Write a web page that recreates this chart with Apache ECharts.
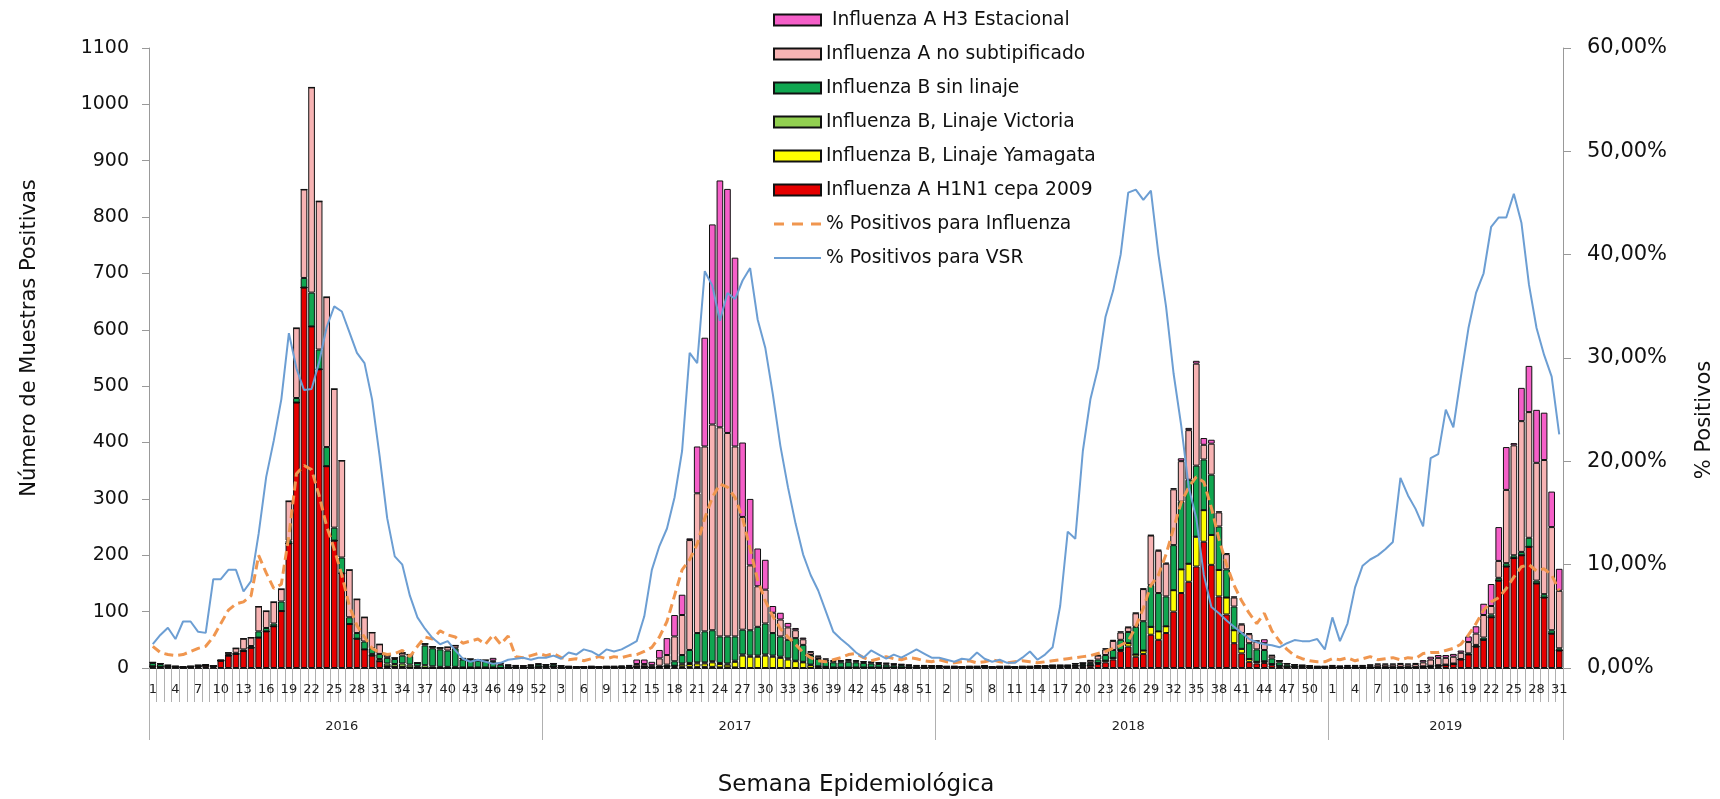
<!DOCTYPE html>
<html>
<head>
<meta charset="utf-8">
<title>Influenza y VSR por semana epidemiológica</title>
<script src="https://cdn.jsdelivr.net/npm/echarts@6/dist/echarts.min.js"></script>
<style>
  html, body { margin: 0; padding: 0; background: #fff; }
  #chart { width: 1720px; height: 799px; }
</style>
</head>
<body>
<div id="chart"></div>
<script>
// años y semanas por año
var years = ['2016', '2017', '2018', '2019'];
var weeksPerYear = [52, 52, 52, 31];

// Influenza A H1N1 cepa 2009
var h1n1 = [
  3,2,2,2,1,2,3,4,3, 13,22,25,30,36,54,65,74,101,221,471,675,606,530,358,226,168,78,52,33,22,12,3,2,2,1,1, 0,0,0,0,0,0,0,0,0,0,0, 1,1,1,1,2,
  2,3,1,1,1,1,1,1,1,1,1,1, 2,2,1,2,2,2,2,2,2,2,2,1,1,1, 0,0,0,0,0,0,0,0,0,0,0,0,0,0,0, 1,1,1,1,1,1,1,1,1,1,1,
  2,1,1,1,1,1,2,1,1,1,1,1,1,2,2,2,2,2, 3,3,4,7,10,15,30,38,20,25,59,50,62,100,133,153,180, 224,183,127,95,44,26,11,8,9,5,3,2,2,2,1,1,1,
  1,1,1,1,1,1,1,1,1,1,1,1, 2,3,4,5,7,15,24,38,50,90,155,180,195,200,215,150,125,61,31
];
// Influenza B, Linaje Yamagata
var yamagata = [
  0,0,0,0,0,0,0,0,0,0, 0,0,0,0,0,0,0,0,0,0, 0,0,0,0,0,0,0,0,0,0, 0,0,0,0,0,0,0,0,0,0, 0,0,0,0,0,0,0,0,0,0, 0,0,
  0,0,0,0,0,0,0,0,0,0, 0,0,0,0,0,0, 1,2,4,5,6,6,8,6,5,10,22,20,20,22,20,18,15,12,10,5,3,2,1,1,1, 0,0,0,0,0,0,0,0,0,0,0,
  0,0,0,0,0,0,0,0,0,0, 0,0,0,0,0,0,0,0, 1,1,1,2,3,3,2,6,4,6,14,15,12,38,42,32,53,56,53,47,30,23,8,5,3,3,2,1,0, 0,0,0,0,0,
  0,0,0,0,0,0,0,0,0,0, 0,0,0,0,0,0,0,0,0,0, 0,0,0,0,0,0,0,0,0,0, 0
];
// Influenza B, Linaje Victoria
var victoria = [
  0,0,0,0,0,0,0,0,0,0, 0,0,0,0,0,0,0,0,0,0, 0,0,0,0,0,0,0,0,0, 3,4,5,5,6,5,2,5,3,2,2,2,1,1,1,1,1, 0,0,0,0,0,0,
  0,0,0,0,0,0,0,0,0,0, 0,0,0,0,0,0,0,0, 2,2,2,2,2,2,2,2,2,2,2,2,2,2,2,1,1,1, 0,0,0,0,0,0,0,0,0,0, 0,0,0,0,0,0,
  0,0,0,0,0,0,0,0,0,0, 0,0,0,0,0,0,0,0,0,0, 0,0,0,0,0,0,0,0,0,0, 0,0,0,0,0,0,0,0,0,0, 0,0,0,0,0,0,0,0,0,0, 0,0,
  0,0,0,0,0,0,0,0,0,0, 0,0,0,0,0,0,0,0,0,0, 0,0,0,0,0,0,0,0,0,0, 0
];
// Influenza B sin linaje
var bSinLinaje = [
  6,5,2,1,1,1,1,1,1, 0,1,2,3,3,11,6,5,17,5,8,17,60,35,34,23,28,12,10,14,10,9,10,9,14,15,6, 35,32,31,29,33,14,13,12,11,10,6,3,2,2,3,4,
  3,4,2,1,1,1,1,1,1,1,1,1, 1,1,1,2,3,8,15,23,52,55,55,47,48,43, 44,45,51,55,40,36,33,40,30,17,13,10,9,9,10,9,8,7,6,5,4,4,3,2,2,2,
  1,1,1,1,1,1,1,1,1,1,1,1,1,1,1,2,2,2, 2,3,4,6,10,14,18,20,49,52,74,68,53,80,120,149,126, 90,107,77,50,42,28,28,22,20,10,6,4,3,2,2,1,1,
  1,1,1,1,1,1,1,1,1,1,1,1, 1,1,1,1,1,1,2,3,4,5,5,6,5,6,16,5,6,6,4
];
// Influenza A no subtipificado
var aNoSubtip = [
  1,1,1,0,0,0,1,1,0, 1,4,8,19,15,44,30,38,22,70,124,157,364,263,266,246,172,84,60,43,28,17,4,2,5,3,0, 3,3,3,6,5,2,2,2,2,2,2,1,1,1,1,1,
  1,1,1,1,0,0,1,0,1,1,1,2, 4,4,3,13,17,44,71,195,248,328,365,371,361,337, 200,115,72,60,36,30,22,14,10,5,4,3,2,2,3,2,2,2,2,2,2,1,1,1,1,1,
  1,1,1,0,1,1,1,0,1,1,0,1,1,1,1,1,1,1, 2,2,4,7,10,16,13,8,24,57,88,75,58,99,72,88,181, 26,55,25,27,16,15,16,14,12,5,3,2,1,1,1,1,1,
  2,1,2,2,2,3,4,4,4,5,4,5, 7,11,13,12,12,11,20,20,40,15,30,130,195,232,223,209,238,183,102
];
// Influenza A H3 Estacional
var h3 = [
  0,0,0,0,0,0,0,0,0,0, 0,0,0,0,0,0,0,0,0,0, 0,0,0,0,0,0,0,0,0,0, 0,0,0,0,0,0,0,0,0,0, 0,0,0,0,0, 5,1,1,1,0,1,1,
  0,0,0,0,0,0,0,0,0,0, 1,1,8,8,6,15,30,38,36,3,83,193,355,438,433,335, 132,118,67,53,12,12,8,4,3,2,2,2,2,2,2,2,1,1,1,1,1,1,1,1,1,0,
  0,0,0,0,0,0,0,0,0,0, 0,0,0,0,0,0,0,0,0,0, 1,1,2,2,2,1,1,1,1,2,2,2,5,4,5,12,7,2,2,2,2,2,2,7,1,0, 0,0,0,0,0,0,
  1,1,1,1,1,1,2,2,2,2,2,2, 4,5,5,5,5,4,10,13,20,39,60,76,4,59,82,94,84,63,39
];
// % Positivos para Influenza
var pctInfluenza = [
  2.1,1.5,1.3,1.2,1.3,1.6,1.9,2.1,3.0,4.3, 5.6,6.2,6.4,7.0,10.9,9.2,7.7,8.1,12.8,18.8, 19.6,19.2,16.7,13.7,11.5,9.0,6.0,4.1,3.0,1.9, 1.5,1.3,1.4,1.7,1.1,2.1,3.0,2.8,3.6,3.2, 3.0,2.4,2.6,2.8,2.3,3.2,2.3,3.1,1.1,1.0, 1.2,1.4,
  1.2,1.4,1.0,0.8,0.9,0.7,0.9,1.1,0.9,1.1, 1.0,1.2,1.3,1.6,2.0,3.0,4.5,7.0,9.5,10.5, 12.0,14.5,16.5,17.8,17.5,16.5,14.5,11.5,8.5,6.5, 5.0,3.8,3.0,2.3,1.5,1.0,0.7,0.6,0.8,1.0, 1.3,1.4,1.0,0.7,0.9,1.1,0.9,0.8,1.0,0.9, 0.7,0.6,
  0.8,0.6,0.5,0.6,0.7,0.5,0.6,0.8,0.6,0.5, 0.6,0.7,0.6,0.5,0.6,0.7,0.8,0.9,1.0,1.1, 1.2,1.4,1.6,1.9,2.2,2.6,4.0,5.8,8.0,9.0, 11.0,13.5,16.0,17.5,18.5,18.0,15.5,12.5,10.0,8.0, 6.5,5.3,4.3,5.3,3.6,2.6,1.8,1.2,0.9,0.7, 0.6,0.6,
  0.9,0.8,1.0,0.7,0.9,1.1,0.8,0.9,1.0,0.8, 1.0,0.9,1.4,1.5,1.5,1.7,1.9,2.3,3.2,4.3, 5.6,6.4,6.8,7.7,8.8,9.8,10.0,9.4,9.6,9.0, 7.5
];
// % Positivos para VSR
var pctVSR = [
  2.3,3.2,3.9,2.8,4.5,4.5,3.5,3.4,8.6,8.6, 9.5,9.5,7.4,8.4,13.0,18.5,22.0,26.0,32.4,29.0, 26.9,27.0,29.6,33.0,35.0,34.5,32.5,30.5,29.5,26.0, 20.5,14.5,10.8,10.0,7.0,4.9,3.8,2.9,2.3,2.6, 1.7,0.9,0.6,0.8,0.6,0.4,0.5,0.8,0.9,1.0, 0.8,1.0,
  1.0,1.2,0.9,1.5,1.3,1.8,1.6,1.2,1.8,1.6, 1.8,2.2,2.6,5.0,9.5,11.8,13.5,16.5,21.0,30.5, 29.5,38.4,37.0,33.6,36.3,35.7,37.5,38.7,33.7,31.0, 26.5,21.5,17.5,14.0,11.0,9.0,7.5,5.5,3.5,2.8, 2.2,1.5,1.0,1.7,1.3,0.9,1.3,1.0,1.4,1.8, 1.4,1.0,
  1.0,0.8,0.6,0.9,0.8,1.5,0.9,0.6,0.8,0.5, 0.5,1.0,1.6,0.8,1.3,2.0,6.0,13.2,12.5,21.0, 26.0,29.0,34.0,36.5,40.0,46.0,46.3,45.3,46.2,40.0, 35.0,28.5,23.5,17.5,14.5,9.0,5.9,5.3,4.6,4.0, 3.4,2.8,2.5,2.3,2.2,2.0,2.4,2.7,2.6,2.6, 2.8,1.8,
  4.9,2.6,4.3,7.8,9.9,10.5,10.9,11.5,12.2,18.4, 16.7,15.4,13.7,20.3,20.7,25.0,23.3,28.2,32.9,36.3, 38.2,42.7,43.6,43.6,45.9,43.1,37.1,32.9,30.3,28.2, 22.6
];

// semanas (eje inferior) y rótulo de año centrado en cada bloque
var weeks = [];
var yearRow = [];
years.forEach(function (y, i) {
  for (var w = 1; w <= weeksPerYear[i]; w++) {
    weeks.push(String(w));
    yearRow.push(w === Math.ceil(weeksPerYear[i] / 2) ? y : '');
  }
});

[h1n1, yamagata, victoria, bSinLinaje, aNoSubtip, h3, pctInfluenza, pctVSR].forEach(function (a, k) {
  if (a.length !== weeks.length) throw new Error('serie ' + k + ' tiene ' + a.length + ' valores');
});

var FONT = '"DejaVu Sans", Verdana, sans-serif';
// iconos de línea para la leyenda (guiones y línea continua)
var ICON_DASH = 'path://M0 0h10v3H0zM18 0h11v3H18zM37 0h10v3H37z';
var ICON_SOLID = 'path://M0 0h47v2H0z';

function barSerie(name, data, color) {
  return {
    name: name, type: 'bar', stack: 'muestras', data: data,
    barCategoryGap: '12%',
    itemStyle: { color: color, borderColor: '#111', borderWidth: 1 },
    emphasis: { disabled: true }
  };
}

var myChart = echarts.init(document.getElementById('chart'));
myChart.setOption({
  animation: false,
  backgroundColor: '#fff',
  textStyle: { fontFamily: FONT, color: '#111' },
  grid: { left: 149, right: 157, top: 48, bottom: 131, containLabel: false },
  legend: {
    orient: 'vertical', left: 768, top: 5,
    itemWidth: 47, itemHeight: 11, itemGap: 14,
    symbolKeepAspect: true,
    textStyle: { fontSize: 18.7, fontFamily: FONT, color: '#111', lineHeight: 20 },
    data: [
      { name: ' Influenza A H3 Estacional', icon: 'rect' },
      { name: 'Influenza A no subtipificado', icon: 'rect' },
      { name: 'Influenza B sin linaje', icon: 'rect' },
      { name: 'Influenza B, Linaje Victoria', icon: 'rect' },
      { name: 'Influenza B, Linaje Yamagata', icon: 'rect' },
      { name: 'Influenza A H1N1 cepa 2009', icon: 'rect' },
      { name: '% Positivos para Influenza', icon: ICON_DASH },
      { name: '% Positivos para VSR', icon: ICON_SOLID }
    ]
  },
  xAxis: [{
    type: 'category', data: weeks, position: 'bottom',
    axisLine: { lineStyle: { color: '#222', width: 1 } },
    axisTick: { show: true, interval: 0, length: 34, lineStyle: { color: '#b0b0b0' } },
    axisLabel: { interval: 2, margin: 15, fontSize: 13, color: '#222', fontFamily: FONT },
    splitLine: { show: false }
  }, {
    type: 'category', data: yearRow, position: 'bottom',
    axisLine: { show: false },
    axisTick: {
      show: true, length: 72, lineStyle: { color: '#b0b0b0' },
      interval: function (index) { return weeks[index] === '1'; }
    },
    axisLabel: { interval: 0, margin: 52, fontSize: 13, color: '#222', fontFamily: FONT },
    splitLine: { show: false }
  }],
  yAxis: [{
    type: 'value', min: 0, max: 1100, interval: 100,
    axisLine: { show: true, lineStyle: { color: '#999' } },
    axisTick: { show: true, length: 7, lineStyle: { color: '#999' } },
    axisLabel: { fontSize: 19, margin: 20, color: '#111', formatter: function (v) { return String(v); } },
    splitLine: { show: false }
  }, {
    type: 'value', min: 0, max: 60, interval: 10, position: 'right',
    axisLine: { show: true, lineStyle: { color: '#999' } },
    axisTick: { show: true, length: 8, lineStyle: { color: '#999' } },
    axisLabel: {
      fontSize: 21, margin: 24, color: '#111',
      formatter: function (v) { return v.toFixed(2).replace('.', ',') + '%'; }
    },
    splitLine: { show: false }
  }],
  series: [
    barSerie('Influenza A H1N1 cepa 2009', h1n1, '#E60000'),
    barSerie('Influenza B, Linaje Yamagata', yamagata, '#FFFF00'),
    barSerie('Influenza B, Linaje Victoria', victoria, '#92D050'),
    barSerie('Influenza B sin linaje', bSinLinaje, '#10A650'),
    barSerie('Influenza A no subtipificado', aNoSubtip, '#F7B3B3'),
    barSerie(' Influenza A H3 Estacional', h3, '#F55FC8'),
    {
      name: '% Positivos para Influenza', type: 'line', yAxisIndex: 1, data: pctInfluenza,
      symbol: 'none', z: 5,
      lineStyle: { color: '#F0964F', width: 3, type: [9, 5] },
      itemStyle: { color: '#F0964F' }
    },
    {
      name: '% Positivos para VSR', type: 'line', yAxisIndex: 1, data: pctVSR,
      symbol: 'none', z: 6,
      lineStyle: { color: '#6C9ED3', width: 2 },
      itemStyle: { color: '#6C9ED3' }
    }
  ],
  graphic: [
    {
      type: 'text', x: 30, y: 338, rotation: Math.PI / 2,
      style: { text: 'Número de Muestras Positivas', font: '21px ' + FONT, fill: '#111', align: 'center', verticalAlign: 'middle' }
    },
    {
      type: 'text', x: 1705, y: 420, rotation: Math.PI / 2,
      style: { text: '% Positivos', font: '21px ' + FONT, fill: '#111', align: 'center', verticalAlign: 'middle' }
    },
    {
      type: 'text', x: 856, y: 785,
      style: { text: 'Semana Epidemiológica', font: '23px ' + FONT, fill: '#111', align: 'center', verticalAlign: 'middle' }
    }
  ]
});
window.addEventListener('resize', function () { myChart.resize(); });
</script>
</body>
</html>
